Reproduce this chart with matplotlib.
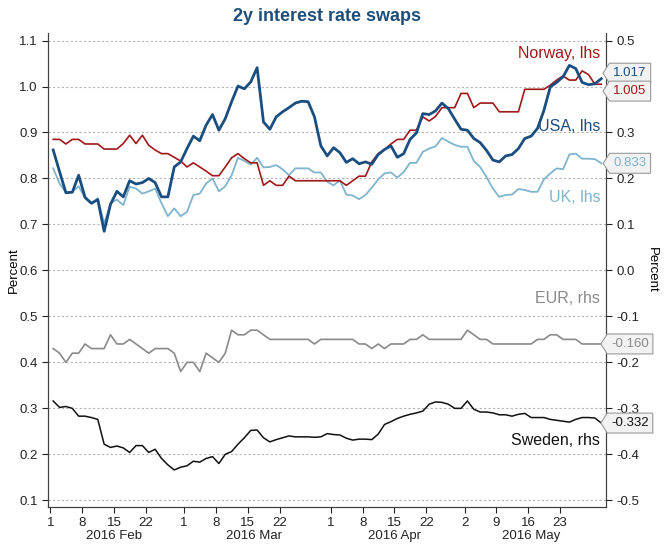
import numpy as np
import pandas as pd
import matplotlib.pyplot as plt
from matplotlib.path import Path

plt.rcParams['font.family'] = ['Liberation Sans', 'DejaVu Sans']
plt.rcParams['axes.unicode_minus'] = False

# business days, 1 Feb - 31 May 2016
dates = pd.bdate_range('2016-02-01', '2016-05-31')

usa = [0.862, 0.815, 0.769, 0.770, 0.807, 0.759, 0.746, 0.754, 0.685, 0.744,
       0.772, 0.760, 0.795, 0.788, 0.791, 0.800, 0.791, 0.760, 0.760, 0.825,
       0.836, 0.865, 0.892, 0.882, 0.916, 0.939, 0.905, 0.930, 0.967, 1.001,
       0.995, 1.010, 1.041, 0.923, 0.907, 0.934, 0.945, 0.954, 0.964, 0.968,
       0.967, 0.934, 0.871, 0.849, 0.867, 0.856, 0.835, 0.843, 0.832, 0.836,
       0.831, 0.852, 0.863, 0.871, 0.846, 0.854, 0.885, 0.899, 0.941, 0.939,
       0.947, 0.964, 0.952, 0.929, 0.907, 0.905, 0.887, 0.878, 0.861, 0.840,
       0.836, 0.849, 0.852, 0.865, 0.887, 0.892, 0.909, 0.948, 0.999, 1.009,
       1.021, 1.046, 1.039, 1.009, 1.004, 1.006, 1.017]

norway = [0.885, 0.885, 0.875, 0.885, 0.885, 0.875, 0.875, 0.875, 0.864, 0.864,
          0.864, 0.876, 0.894, 0.876, 0.894, 0.872, 0.862, 0.854, 0.854, 0.846,
          0.838, 0.825, 0.834, 0.825, 0.816, 0.806, 0.806, 0.825, 0.845, 0.854,
          0.843, 0.834, 0.834, 0.785, 0.795, 0.785, 0.785, 0.805, 0.795, 0.795,
          0.795, 0.795, 0.795, 0.795, 0.795, 0.795, 0.785, 0.795, 0.805, 0.805,
          0.836, 0.854, 0.863, 0.875, 0.885, 0.885, 0.905, 0.905, 0.934, 0.925,
          0.935, 0.954, 0.954, 0.954, 0.985, 0.985, 0.954, 0.964, 0.964, 0.964,
          0.945, 0.945, 0.945, 0.945, 0.994, 0.994, 0.994, 0.994, 1.003, 1.014,
          1.023, 1.014, 1.014, 1.034, 1.026, 1.005, 1.005]

uk = [0.822, 0.789, 0.769, 0.771, 0.783, 0.757, 0.746, 0.757, 0.702, 0.746,
      0.754, 0.742, 0.782, 0.778, 0.767, 0.772, 0.778, 0.746, 0.718, 0.735,
      0.718, 0.727, 0.764, 0.767, 0.789, 0.800, 0.772, 0.783, 0.807, 0.845,
      0.838, 0.830, 0.845, 0.824, 0.825, 0.829, 0.820, 0.807, 0.822, 0.822,
      0.822, 0.813, 0.813, 0.793, 0.785, 0.796, 0.765, 0.763, 0.755, 0.764,
      0.780, 0.798, 0.811, 0.813, 0.802, 0.814, 0.834, 0.834, 0.858, 0.865,
      0.870, 0.888, 0.880, 0.873, 0.869, 0.869, 0.838, 0.825, 0.803, 0.778,
      0.760, 0.764, 0.765, 0.777, 0.775, 0.771, 0.771, 0.798, 0.811, 0.822,
      0.820, 0.852, 0.854, 0.843, 0.843, 0.842, 0.833]

eur = [-0.17, -0.18, -0.20, -0.18, -0.18, -0.16, -0.17, -0.17, -0.17, -0.14,
       -0.16, -0.16, -0.15, -0.16, -0.17, -0.18, -0.17, -0.17, -0.17, -0.18,
       -0.22, -0.20, -0.20, -0.22, -0.18, -0.19, -0.20, -0.18, -0.13, -0.14,
       -0.14, -0.13, -0.13, -0.14, -0.15, -0.15, -0.15, -0.15, -0.15, -0.15,
       -0.15, -0.16, -0.15, -0.15, -0.15, -0.15, -0.15, -0.15, -0.16, -0.16,
       -0.17, -0.16, -0.17, -0.16, -0.16, -0.16, -0.15, -0.15, -0.14, -0.15,
       -0.15, -0.15, -0.15, -0.15, -0.15, -0.13, -0.14, -0.15, -0.15, -0.16,
       -0.16, -0.16, -0.16, -0.16, -0.16, -0.16, -0.15, -0.15, -0.14, -0.14,
       -0.15, -0.15, -0.15, -0.16, -0.16, -0.16, -0.160]

sweden = [-0.284, -0.298, -0.296, -0.300, -0.317, -0.317, -0.320, -0.324, -0.378, -0.385,
          -0.382, -0.386, -0.396, -0.381, -0.381, -0.396, -0.389, -0.409, -0.423, -0.434,
          -0.428, -0.425, -0.415, -0.417, -0.409, -0.405, -0.420, -0.400, -0.394, -0.378,
          -0.364, -0.348, -0.347, -0.364, -0.373, -0.368, -0.364, -0.360, -0.362, -0.362,
          -0.362, -0.363, -0.362, -0.355, -0.357, -0.358, -0.365, -0.369, -0.367, -0.367,
          -0.368, -0.356, -0.335, -0.329, -0.322, -0.317, -0.313, -0.310, -0.306, -0.291,
          -0.286, -0.287, -0.291, -0.300, -0.300, -0.284, -0.302, -0.308, -0.308, -0.310,
          -0.314, -0.314, -0.317, -0.313, -0.311, -0.320, -0.320, -0.320, -0.324, -0.326,
          -0.328, -0.330, -0.324, -0.320, -0.320, -0.321, -0.332]

tick_dates = ['2016-02-01', '2016-02-08', '2016-02-15', '2016-02-22',
              '2016-03-01', '2016-03-08', '2016-03-15', '2016-03-22',
              '2016-04-01', '2016-04-08', '2016-04-15', '2016-04-22',
              '2016-05-02', '2016-05-09', '2016-05-16', '2016-05-23']

c_nor = '#a01818'
c_usa = '#1a4e80'
c_uk = '#80b4cd'
c_eur = '#8a8a8a'
c_swe = '#111111'

fig = plt.figure(figsize=(6.64, 5.44), dpi=100)
ax = fig.add_axes([0.0723, 0.068, 0.8404, 0.871])
ax2 = ax.twinx()

x = np.arange(len(dates)) + 0.45

ax.plot(x, norway, color=c_nor, lw=1.2, zorder=3)
ax.plot(x, uk, color=c_uk, lw=1.3, zorder=2)
ax.plot(x, usa, color=c_usa, lw=2.0, zorder=4)
ax2.plot(x, eur, color=c_eur, lw=1.2)
ax2.plot(x, sweden, color=c_swe, lw=1.1)

ax.set_xlim(-0.36, 87.2)
ax.set_ylim(0.0854, 1.116)
ax2.set_ylim(-0.5146, 0.516)

ax.set_yticks(np.arange(0.1, 1.15, 0.1))
ax.set_yticklabels(['%.1f' % v for v in np.arange(0.1, 1.15, 0.1)])
ax2.set_yticks(np.arange(-0.5, 0.55, 0.1))
ax2.set_yticklabels(['%.1f' % (0 if abs(v) < 1e-9 else v) for v in np.arange(-0.5, 0.55, 0.1)])

tpos = dates.get_indexer(pd.to_datetime(tick_dates))
ax.set_xticks(tpos)
ax.set_xticklabels([str(pd.Timestamp(d).day) for d in tick_dates])

# month labels under the day numbers
months = dates.to_period('M')
for m in months.unique():
    idx = np.where(months == m)[0]
    ax.text(idx.mean(), -0.062, m.strftime('%Y %b'), transform=ax.get_xaxis_transform(),
            ha='center', va='center', fontsize=9.5, color='#222222')

ax.grid(axis='y', linestyle=(0, (2, 2)), color='#b5b5b5', lw=0.8)
ax.grid(axis='x', visible=False)

for a in (ax, ax2):
    a.spines['top'].set_visible(False)
    for s in ('left', 'right', 'bottom'):
        a.spines[s].set_color('#404040')
    a.tick_params(labelsize=9.5, colors='#222222', length=4, width=0.8, direction='out')

ax.set_ylabel('Percent', fontsize=9.5, va='center')
ax.yaxis.set_label_coords(-0.061, 0.5)
ax2.set_ylabel('Percent', fontsize=9.5, rotation=270, va='center')
ax2.yaxis.set_label_coords(1.082, 0.5)
ax.set_title('2y interest rate swaps', fontsize=13, fontweight='bold', color='#1f4e79', pad=9)

# series names
ax.text(86.3, 1.072, 'Norway, lhs', color=c_nor, fontsize=11.5, ha='right', va='center')
ax.text(86.3, 0.914, 'USA, lhs', color=c_usa, fontsize=11.5, ha='right', va='center')
ax.text(86.3, 0.759, 'UK, lhs', color=c_uk, fontsize=11.5, ha='right', va='center')
ax2.text(86.3, -0.060, 'EUR, rhs', color=c_eur, fontsize=11.5, ha='right', va='center')
ax2.text(86.3, -0.369, 'Sweden, rhs', color=c_swe, fontsize=11.5, ha='right', va='center')


def tag_box(x0, y0, width, height, mutation_size):
    pad = 0.3 * mutation_size
    x0, y0 = x0 - pad, y0 - pad
    x1, y1 = x0 + width + 2 * pad, y0 + height + 2 * pad
    tip = 0.32 * (y1 - y0)
    return Path([(x0, y0), (x1, y0), (x1, y1), (x0, y1), (x0 - tip, (y0 + y1) / 2), (x0, y0)],
                closed=True)


def value_tag(ypos, value, color):
    # ypos in right-axis units, drawn on ax2 so the tag covers the tick labels
    ax2.text(1.043, ypos, '%.3f' % value, transform=ax2.get_yaxis_transform(),
             ha='center', va='center', fontsize=9.5, color=color, clip_on=False, zorder=10,
             bbox=dict(boxstyle=tag_box, fc='#f2f2f2', ec='#9a9a9a', lw=0.8))


lhs_shift = -0.6  # right axis = left axis - 0.6
value_tag(1.029 + lhs_shift, usa[-1], c_usa)
value_tag(0.990 + lhs_shift, norway[-1], c_nor)
value_tag(uk[-1] + lhs_shift, uk[-1], c_uk)
value_tag(eur[-1], eur[-1], c_eur)
value_tag(sweden[-1], sweden[-1], c_swe)

fig.savefig('out.png', dpi=100)
